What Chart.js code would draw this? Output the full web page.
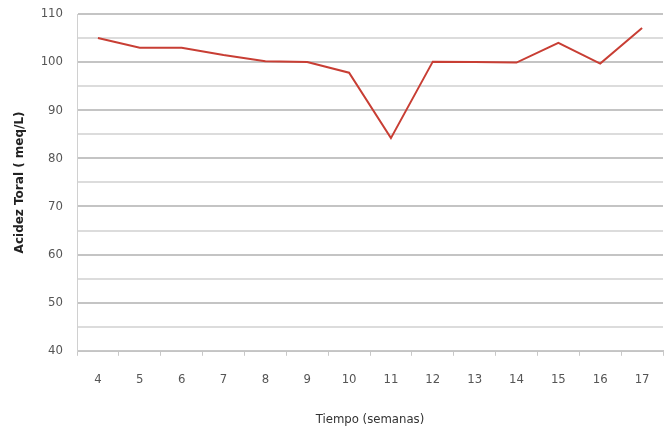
<!DOCTYPE html>
<html>
<head>
<meta charset="utf-8">
<script src="https://cdn.jsdelivr.net/npm/chart.js@4"></script>
<style>
    body { margin: 0; background: #fff; }
    #wrap { width: 668px; height: 427px; }
</style>
</head>
<body>
<div id="wrap"><canvas id="myLineChart"></canvas></div>
<script>
// weeks and measured total acidity
var semanas = ['4', '5', '6', '7', '8', '9', '10', '11', '12', '13', '14', '15', '16', '17'];
var acidez = [105, 103, 103, 101.5, 100.2, 100, 97.8, 84.2, 100.1, 100, 99.9, 104, 99.7, 107.1];

var ctx = document.getElementById('myLineChart').getContext('2d');
var myLineChart = new Chart(ctx, {
    type: 'line',
    data: {
        labels: semanas,
        datasets: [{
            data: acidez,
            borderColor: 'rgb(200,62,52)',
            borderWidth: 2,
            pointRadius: 0,
            tension: 0,
            fill: false
        }]
    },
    options: {
        responsive: true,
        maintainAspectRatio: false,
        animation: false,
        layout: { padding: { top: 14, right: 5, bottom: 0, left: 0 } },
        plugins: {
            legend: { display: false },
            tooltip: { enabled: false }
        },
        scales: {
            x: {
                offset: true,
                grid: {
                    offset: true,
                    drawOnChartArea: false,
                    drawTicks: true,
                    tickLength: 5,
                    color: '#c8c8c8'
                },
                border: { color: '#c8c8c8' },
                ticks: {
                    color: '#555',
                    padding: 16,
                    font: { family: 'Liberation Sans Narrow, DejaVu Sans Condensed, sans-serif', size: 13 }
                },
                title: {
                    display: true,
                    text: 'Tiempo (semanas)',
                    color: '#333',
                    padding: { top: 8, bottom: 0 },
                    font: { family: 'Liberation Sans Narrow, DejaVu Sans Condensed, sans-serif', size: 13 }
                }
            },
            y: {
                min: 40,
                max: 110,
                afterFit: function(scale) {
                    scale.width = 77;
                    scale.paddingTop = 0;
                    scale.paddingBottom = 0;
                },
                ticks: {
                    stepSize: 5,
                    color: '#555',
                    padding: 14,
                    font: { family: 'Liberation Sans Narrow, DejaVu Sans Condensed, sans-serif', size: 13 },
                    callback: function(v) { return v % 10 === 0 ? v : ''; }
                },
                grid: {
                    drawTicks: false,
                    lineWidth: 2,
                    color: function(c) { return c.tick && c.tick.value % 10 === 0 ? '#c4c4c4' : '#dcdcdc'; }
                },
                border: { color: '#d0d0d0' },
                title: {
                    display: true,
                    text: 'Acidez Toral ( meq/L)',
                    color: '#222',
                    padding: { top: 13, bottom: 0 },
                    font: { family: 'DejaVu Sans', size: 12, weight: 'bold' }
                }
            }
        }
    }
});
</script>
</body>
</html>
